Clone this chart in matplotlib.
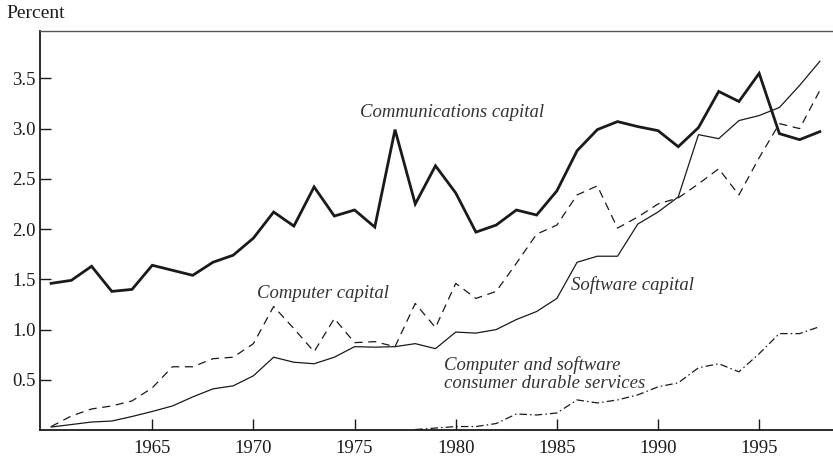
import matplotlib
matplotlib.use('Agg')
import matplotlib.pyplot as plt
import numpy as np

plt.rcParams['font.family'] = ['Liberation Serif', 'DejaVu Serif']

# years
years = list(range(1960, 1999))

# communications capital (thick line)
comm = [1.46, 1.49, 1.63, 1.38, 1.40, 1.64, 1.59, 1.54, 1.67, 1.74,
        1.91, 2.17, 2.03, 2.42, 2.13, 2.19, 2.02, 2.99, 2.25, 2.63,
        2.36, 1.97, 2.04, 2.19, 2.14, 2.38, 2.78, 2.99, 3.07, 3.02,
        2.98, 2.82, 3.01, 3.37, 3.27, 3.55, 2.95, 2.89, 2.97]

# computer capital (dashed)
comp = [0.035, 0.14, 0.21, 0.24, 0.29, 0.42, 0.63, 0.63, 0.71, 0.725,
        0.86, 1.23, 1.01, 0.78, 1.11, 0.87, 0.88, 0.83, 1.26, 1.02,
        1.46, 1.31, 1.38, 1.66, 1.95, 2.04, 2.34, 2.43, 2.01, 2.12,
        2.25, 2.31, 2.45, 2.60, 2.34, 2.71, 3.05, 3.00, 3.38]

# software capital (thin solid)
soft = [0.03, 0.055, 0.08, 0.09, 0.135, 0.185, 0.24, 0.33, 0.41, 0.44,
        0.54, 0.725, 0.675, 0.66, 0.725, 0.83, 0.825, 0.83, 0.86, 0.81,
        0.975, 0.965, 1.0, 1.10, 1.18, 1.31, 1.67, 1.73, 1.73, 2.05,
        2.17, 2.32, 2.94, 2.90, 3.08, 3.13, 3.21, 3.43, 3.67]

# consumer durable services (dash-dot), starts late 1970s
cons_years = list(range(1978, 1999))
cons = [0.005, 0.02, 0.035, 0.035, 0.065, 0.16, 0.15, 0.17, 0.30, 0.27,
        0.30, 0.35, 0.43, 0.47, 0.62, 0.66, 0.58, 0.76, 0.96, 0.96, 1.03]

fig = plt.figure(figsize=(8.33, 4.58), dpi=100)
ax = fig.add_axes([0.048, 0.061, 0.952, 0.871])

ax.plot(years, comm, color='#1a1a1a', lw=2.0, solid_joinstyle='miter')
ax.plot(years, soft, color='#1a1a1a', lw=0.9)
ax.plot(years, comp, color='#1a1a1a', lw=0.9, dashes=(6.5, 4.5))
ax.plot(cons_years, cons, color='#1a1a1a', lw=0.9, dashes=(6, 2.5, 1.2, 2.5))

ax.set_xlim(1959.45, 1998.65)
ax.set_ylim(0, 3.97)
ax.set_xticks([1965, 1970, 1975, 1980, 1985, 1990, 1995])
ax.set_yticks([0.5, 1.0, 1.5, 2.0, 2.5, 3.0, 3.5])
ax.set_yticklabels(['0.5', '1.0', '1.5', '2.0', '2.5', '3.0', '3.5'])
ax.tick_params(direction='in', length=8, width=1, labelsize=13.5, colors='#1a1a1a')
ax.tick_params(axis='x', pad=7)
ax.tick_params(axis='y', pad=3)

ax.spines['right'].set_visible(False)
ax.spines['top'].set_color('#555555')
ax.spines['top'].set_linewidth(1)
ax.spines['left'].set_linewidth(1.3)
ax.spines['bottom'].set_linewidth(1.3)
ax.spines['left'].set_color('#1a1a1a')
ax.spines['bottom'].set_color('#1a1a1a')

lab = dict(fontsize=13.5, style='italic', color='#333333')
ax.text(1979.8, 3.16, 'Communications capital', ha='center', va='center', **lab)
ax.text(1973.45, 1.355, 'Computer capital', ha='center', va='center', **lab)
ax.text(1988.75, 1.445, 'Software capital', ha='center', va='center', **lab)
ax.text(1979.4, 0.56, 'Computer and software\nconsumer durable services',
        ha='left', va='center', linespacing=1.05, **lab)

fig.text(0.008, 0.971, 'Percent', ha='left', va='center', fontsize=14, color='#1a1a1a')

fig.savefig('out.png', dpi=100)
